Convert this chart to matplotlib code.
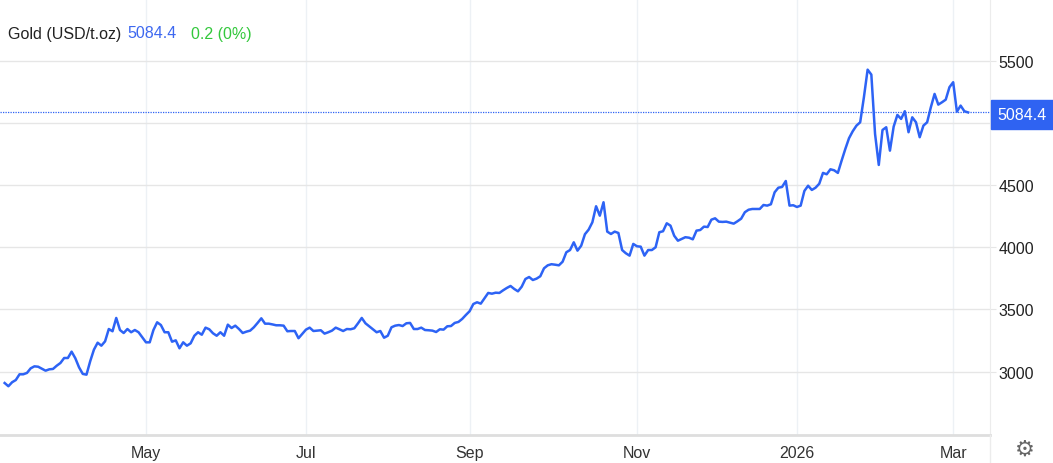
import numpy as np
import pandas as pd
import matplotlib
matplotlib.use("Agg")
import matplotlib.pyplot as plt
from matplotlib.patches import Rectangle
from matplotlib.lines import Line2D

plt.rcParams['font.family'] = ['Liberation Sans', 'DejaVu Sans']

# Daily gold price (USD/t.oz), one value per business day from START_DATE
START_DATE = "2025-03-10"
prices = [
    2909, 2883, 2915, 2933, 2979, 2979, 2990, 3027, 3043, 3040,
    3024, 3008, 3019, 3022, 3048, 3070, 3110, 3110, 3161, 3108,
    3035, 2982, 2976, 3084, 3177, 3233, 3209, 3244, 3343, 3325,
    3432, 3335, 3311, 3343, 3317, 3335, 3317, 3277, 3236, 3236,
    3335, 3397, 3375, 3317, 3317, 3241, 3252, 3188, 3236, 3209,
    3228, 3289, 3317, 3297, 3354, 3341, 3309, 3289, 3317, 3289,
    3378, 3351, 3370, 3343, 3311, 3322, 3330, 3357, 3392, 3429,
    3386, 3386, 3380, 3373, 3373, 3370, 3325, 3327, 3327, 3269,
    3303, 3338, 3354, 3327, 3330, 3333, 3306, 3317, 3330, 3354,
    3341, 3327, 3343, 3341, 3349, 3389, 3432, 3389, 3365, 3341,
    3317, 3327, 3273, 3289, 3357, 3370, 3375, 3367, 3389, 3392,
    3343, 3343, 3354, 3335, 3333, 3330, 3319, 3341, 3338, 3365,
    3367, 3392, 3400, 3424, 3456, 3486, 3544, 3558, 3547, 3590,
    3633, 3627, 3635, 3633, 3654, 3673, 3689, 3665, 3646, 3683,
    3745, 3761, 3737, 3748, 3767, 3831, 3855, 3864, 3860, 3855,
    3884, 3960, 3978, 4040, 3973, 4013, 4105, 4142, 4201, 4330,
    4254, 4362, 4126, 4107, 4126, 4115, 3978, 3952, 3933, 4027,
    4008, 4005, 3933, 3978, 3978, 4000, 4121, 4129, 4193, 4174,
    4093, 4053, 4067, 4081, 4077, 4064, 4134, 4139, 4166, 4163,
    4222, 4233, 4206, 4204, 4206, 4198, 4190, 4209, 4230, 4282,
    4302, 4308, 4308, 4308, 4340, 4335, 4346, 4442, 4479, 4485,
    4533, 4335, 4338, 4324, 4335, 4453, 4495, 4461, 4479, 4511,
    4598, 4587, 4627, 4619, 4598, 4696, 4790, 4877, 4933, 4978,
    5005, 5206, 5428, 5388, 4911, 4662, 4943, 4965, 4777, 4970,
    5064, 5032, 5094, 4925, 5045, 5005, 4885, 4978, 5005, 5126,
    5233, 5147, 5166, 5187, 5287, 5327, 5090, 5139, 5094, 5084.4,
]
change = 0.2
change_pct = 0

month_starts = ["2025-05-01", "2025-07-01", "2025-09-01", "2025-11-03", "2026-01-01", "2026-03-02"]
month_labels = ["May", "Jul", "Sep", "Nov", "2026", "Mar"]
y_ticks = [3000, 3500, 4000, 4500, 5000, 5500]
y_tick_labels = ["3000", "3500", "4000", "4500", "", "5500"]

LINE_BLUE = "#2d63f5"
TAG_BLUE = "#2f63f2"
GREEN = "#33c83c"
GRID = "#e6e6e6"

W, H = 1053, 464


def main():
    dates = pd.bdate_range(START_DATE, periods=len(prices))
    x = np.arange(len(dates))
    tick_pos = dates.searchsorted(pd.to_datetime(month_starts))

    fig = plt.figure(figsize=(W / 100, H / 100), dpi=100)
    ax = fig.add_axes([0, 28 / H, 990 / W, 436 / H])

    ax.plot(x, prices, color=LINE_BLUE, lw=1.8, solid_joinstyle="round", zorder=3)
    ax.axhline(prices[-1], color=LINE_BLUE, lw=0.9, ls=(0, (1, 1)), zorder=2)

    ax.set_xlim(-1.25, 264.9)
    ax.set_ylim(2491, 5996)

    ax.set_xticks(tick_pos)
    ax.set_xticklabels(month_labels)
    ax.yaxis.tick_right()
    ax.set_yticks(y_ticks)
    ax.set_yticklabels(y_tick_labels)

    ax.grid(axis="y", color=GRID, lw=1)
    ax.grid(axis="x", color="#edf1f5", lw=1)
    ax.tick_params(axis="y", length=4, color=GRID, pad=2, labelsize=11.5, labelcolor="#222222")
    ax.tick_params(axis="x", length=0, pad=7, labelsize=11.5, labelcolor="#333333")

    for side in ["top", "left"]:
        ax.spines[side].set_visible(False)
    ax.spines["right"].set_color("#ececec")
    ax.spines["bottom"].set_color("#dedede")
    ax.spines["bottom"].set_linewidth(2)

    # right border keeps going below the axis
    fig.add_artist(Line2D([990 / W, 990 / W], [0, 28 / H], color="#ececec", lw=1,
                          transform=fig.transFigure))

    # header
    yh = 1 - 34 / H
    fig.text(8 / W, yh, "Gold (USD/t.oz)", color="#222222", fontsize=11.5, va="center")
    fig.text(127 / W, yh, f"{prices[-1]}", color="#3d68f0", fontsize=11.5, va="center")
    fig.text(191 / W, yh, f"{change} ({change_pct}%)", color=GREEN, fontsize=11.5, va="center")

    # last price tag
    fig.add_artist(Rectangle((991 / W, 1 - 130 / H), 62 / W, 29 / H, color=TAG_BLUE,
                             transform=fig.transFigure))
    fig.text(1022 / W, 1 - 116 / H, f"{prices[-1]}", color="white", fontsize=11.5,
             ha="center", va="center")

    # settings gear
    fig.text(1025 / W, 1 - 450 / H, "\u2699", family="DejaVu Sans", fontsize=16,
             color="#666666", ha="center", va="center")

    fig.savefig("out.png", dpi=100)


if __name__ == "__main__":
    main()
